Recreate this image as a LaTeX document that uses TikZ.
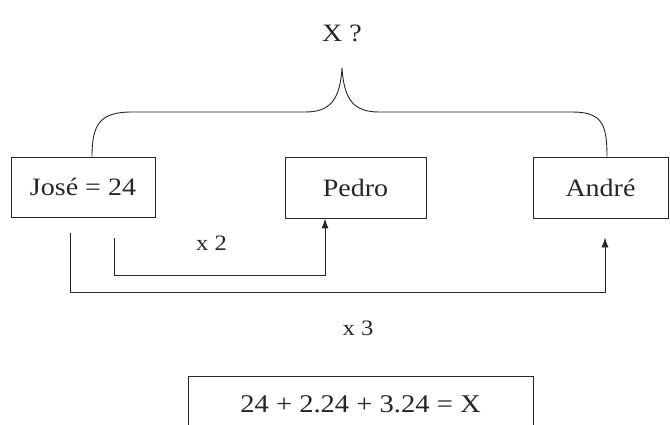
\documentclass[tikz,border=0pt]{standalone}
\usepackage{fontspec}
\setmainfont{Liberation Serif}[FakeStretch=1.12]
\usetikzlibrary{arrows.meta}
\tikzset{
  namebox/.style={draw, line width=0.9pt, inner sep=0pt, font=\fontsize{25}{30}\selectfont},
  lbl/.style={font=\fontsize{22}{26}\selectfont},
  conn/.style={line width=0.9pt},
}
\begin{document}
\begin{tikzpicture}[x=1pt, y=-1pt, >={Latex[length=10pt,width=7pt]}, black!85]
            \useasboundingbox (0,0) rectangle (670,425);

            \node[font=\fontsize{25}{30}\selectfont] (xq) at (342,33) {X ?};

            \node[namebox, minimum width=144pt, minimum height=60pt] (jose) at (83,187) {José = 24};
            \node[namebox, minimum width=141pt, minimum height=61pt] (pedro) at (355.5,187.5) {Pedro};
            \node[namebox, minimum width=135pt, minimum height=61pt] (andre) at (600.5,187.5) {André};

            \coordinate (tip) at (342,68);
            \draw[conn] ([xshift=9pt]jose.north) .. controls (92,124) and (100,112) .. (132,112) -- (305,112)
              .. controls (330,112) and (340,100) .. (tip)
              .. controls (344,100) and (354,112) .. (379,112) -- (572,112)
              .. controls (602,112) and (607,124) .. ([xshift=6.5pt]andre.north);

            \draw[conn, ->] ([xshift=31.5pt, yshift=-21pt]jose.south) -- ++(0,37) -| ([xshift=-30.5pt]pedro.south);
            \coordinate (andrein) at ([xshift=4.5pt, yshift=-19pt]andre.south);
            \draw[conn, ->] ([xshift=-12.5pt, yshift=-16pt]jose.south) -- ++(0,59) -| (andrein);

            \node[lbl] (times2) at (211.5,243) {x 2};
            \node[lbl] (times3) at (358,328) {x 3};

            \node[namebox, minimum width=345pt, minimum height=56pt, font=\fontsize{25.5}{30}\selectfont] (eq) at (360.5,404) {24 + 2.24 + 3.24 = X};
        \end{tikzpicture}
\end{document}
